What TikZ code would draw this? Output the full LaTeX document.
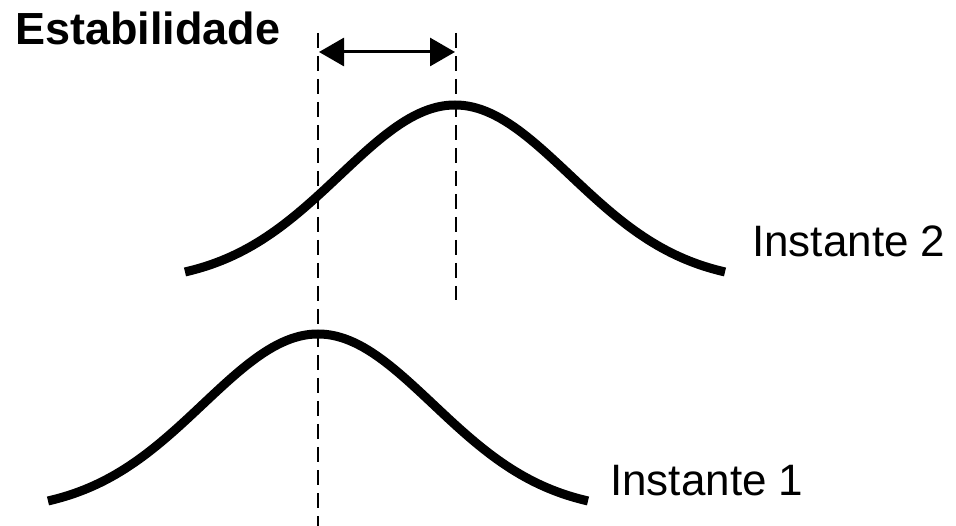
\documentclass[tikz,border=0pt]{standalone}
\usepackage{fontspec}
\setmainfont{Liberation Sans}
\usetikzlibrary{arrows.meta}
\begin{document}
\begin{tikzpicture}[x=1pt,y=-1pt,
  curve/.style={line width=9pt,line join=round},
  guide/.style={line width=2.5pt,dash pattern=on 15pt off 8pt},
  span/.style={line width=3pt,{Triangle[length=25pt,width=28pt]}-{Triangle[length=25pt,width=28pt]}},
  label/.style={anchor=base west,inner sep=0pt,font=\fontsize{44}{44}\selectfont}
]
\useasboundingbox (0,0) rectangle (956,526);
% title
\node[label,font=\fontsize{45}{45}\selectfont\bfseries] (title) at (15,45) {Estabilidade};
% curves
\draw[curve] plot[domain=-270:270,samples=121] ({455+\x},{283.3-178.3*exp(-0.5*(\x/115)^2)});
\draw[curve] plot[domain=-270:270,samples=121] ({318+\x},{512.3-178.3*exp(-0.5*(\x/115)^2)});
% guides
\coordinate (g1top) at (318,33);
\coordinate (g1bot) at (318,526);
\coordinate (g2top) at (456,33);
\coordinate (g2bot) at (456,300);
\draw[guide] (g1top) -- (g1bot);
\draw[guide] (g2top) -- (g2bot);
% arrow
\coordinate (a1) at (319,52);
\coordinate (a2) at (455,52);
\draw[span] (a1) -- (a2);
% labels
\node[label] (i2) at (752,257) {Instante 2};
\node[label] (i1) at (610,495) {Instante 1};
\end{tikzpicture}
\end{document}
